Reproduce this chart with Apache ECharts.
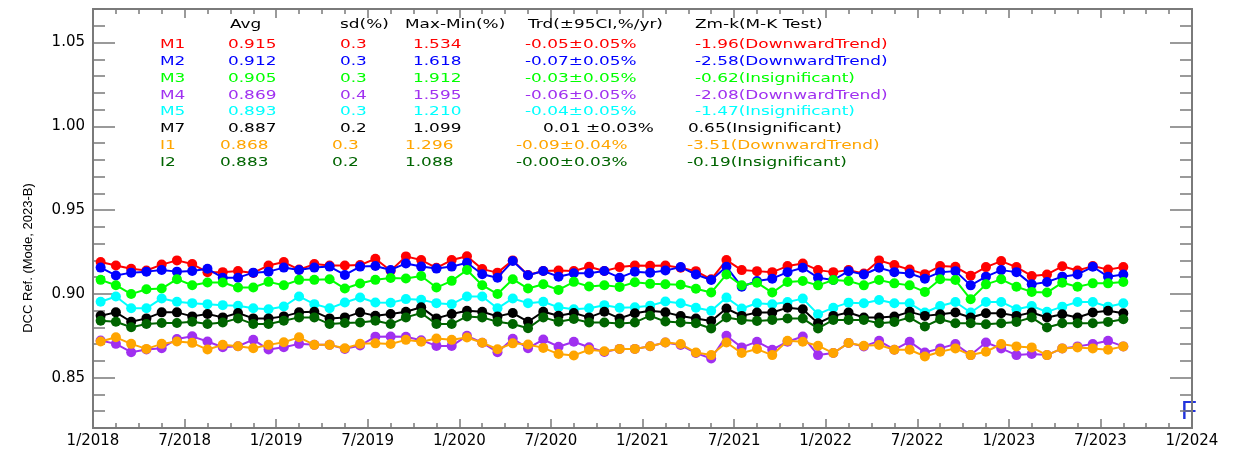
<!DOCTYPE html>
<html><head><meta charset="utf-8">
<script src="https://cdn.jsdelivr.net/npm/echarts@6/dist/echarts.min.js"></script>
<style>html,body{margin:0;padding:0;background:#fff}#c{width:1253px;height:452px}</style>
</head><body><div id="c"></div>
<script>
// ---------- DATA ----------
const months = [
 '2018-01','2018-02','2018-03','2018-04','2018-05','2018-06','2018-07','2018-08','2018-09','2018-10','2018-11','2018-12',
 '2019-01','2019-02','2019-03','2019-04','2019-05','2019-06','2019-07','2019-08','2019-09','2019-10','2019-11','2019-12',
 '2020-01','2020-02','2020-03','2020-04','2020-05','2020-06','2020-07','2020-08','2020-09','2020-10','2020-11','2020-12',
 '2021-01','2021-02','2021-03','2021-04','2021-05','2021-06','2021-07','2021-08','2021-09','2021-10','2021-11','2021-12',
 '2022-01','2022-02','2022-03','2022-04','2022-05','2022-06','2022-07','2022-08','2022-09','2022-10','2022-11','2022-12',
 '2023-01','2023-02','2023-03','2023-04','2023-05','2023-06','2023-07','2023-08'];
const M1 = [0.9190,0.9170,0.9150,0.9140,0.9175,0.9200,0.9178,0.9130,0.9130,0.9137,0.9125,0.9170,0.9190,0.9145,0.9178,0.9170,0.9170,0.9172,0.9210,0.9138,
0.9224,0.9202,0.9156,0.9202,0.9225,0.9148,0.9127,0.9200,0.9113,0.9137,0.9140,0.9137,0.9162,0.9137,0.9160,0.9170,0.9168,0.9170,0.9156,0.9136,
0.9087,0.9202,0.9142,0.9136,0.9130,0.9166,0.9182,0.9142,0.9130,0.9142,0.9122,0.9200,0.9173,0.9145,0.9118,0.9166,0.9162,0.9109,0.9160,0.9196,
0.9160,0.9107,0.9116,0.9165,0.9140,0.9166,0.9145,0.9160];
const M2 = [0.9157,0.9110,0.9127,0.9133,0.9143,0.9133,0.9137,0.9150,0.9097,0.9097,0.9127,0.9133,0.9157,0.9143,0.9157,0.9163,0.9113,0.9163,0.9167,0.9143,
0.9182,0.9163,0.9151,0.9163,0.9186,0.9117,0.9097,0.9196,0.9111,0.9137,0.9103,0.9123,0.9123,0.9137,0.9097,0.9133,0.9127,0.9140,0.9160,0.9116,
0.9083,0.9162,0.9043,0.9077,0.9091,0.9130,0.9156,0.9097,0.9083,0.9136,0.9116,0.9156,0.9130,0.9122,0.9091,0.9130,0.9136,0.9051,0.9103,0.9142,
0.9130,0.9057,0.9071,0.9103,0.9116,0.9162,0.9103,0.9116];
const M3 = [0.9084,0.9052,0.8999,0.9028,0.9032,0.9088,0.9052,0.9068,0.9068,0.9038,0.9038,0.9072,0.9052,0.9084,0.9084,0.9088,0.9032,0.9062,0.9084,0.9095,
0.9092,0.9107,0.9038,0.9078,0.9143,0.9052,0.8999,0.9088,0.9032,0.9058,0.9024,0.9072,0.9044,0.9052,0.9042,0.9070,0.9060,0.9058,0.9055,0.9031,
0.9008,0.9116,0.9051,0.9067,0.9008,0.9071,0.9077,0.9051,0.9083,0.9077,0.9051,0.9083,0.9063,0.9051,0.9012,0.9087,0.9083,0.8968,0.9057,0.9087,
0.9043,0.9012,0.9008,0.9067,0.9043,0.9063,0.9063,0.9071];
const M4 = [0.8722,0.8702,0.8652,0.8668,0.8676,0.8731,0.8747,0.8716,0.8682,0.8688,0.8727,0.8668,0.8682,0.8702,0.8696,0.8696,0.8672,0.8692,0.8745,0.8746,
0.8744,0.8724,0.8690,0.8690,0.8750,0.8709,0.8652,0.8732,0.8676,0.8728,0.8685,0.8715,0.8682,0.8654,0.8672,0.8672,0.8688,0.8710,0.8695,0.8647,
0.8615,0.8750,0.8681,0.8715,0.8667,0.8715,0.8746,0.8635,0.8647,0.8707,0.8687,0.8720,0.8667,0.8715,0.8651,0.8675,0.8701,0.8635,0.8710,0.8675,
0.8635,0.8641,0.8635,0.8675,0.8687,0.8701,0.8720,0.8687];
const M5 = [0.8953,0.8985,0.8914,0.8914,0.8973,0.8953,0.8945,0.8939,0.8933,0.8929,0.8914,0.8909,0.8925,0.8985,0.8939,0.8914,0.8949,0.8979,0.8949,0.8947,
0.8969,0.8965,0.8945,0.8939,0.8985,0.8985,0.8914,0.8973,0.8945,0.8953,0.8920,0.8909,0.8914,0.8933,0.8917,0.8920,0.8930,0.8955,0.8944,0.8918,
0.8899,0.8978,0.8913,0.8944,0.8938,0.8952,0.8972,0.8879,0.8918,0.8948,0.8944,0.8964,0.8944,0.8944,0.8889,0.8928,0.8952,0.8889,0.8952,0.8952,
0.8909,0.8928,0.8893,0.8924,0.8952,0.8952,0.8924,0.8944];
const M7 = [0.8870,0.8890,0.8834,0.8854,0.8890,0.8890,0.8866,0.8880,0.8860,0.8886,0.8854,0.8854,0.8866,0.8890,0.8894,0.8854,0.8860,0.8890,0.8870,0.8880,
0.8894,0.8920,0.8854,0.8880,0.8900,0.8894,0.8866,0.8886,0.8834,0.8894,0.8870,0.8886,0.8860,0.8894,0.8854,0.8885,0.8900,0.8890,0.8868,0.8853,
0.8839,0.8913,0.8869,0.8889,0.8889,0.8918,0.8909,0.8825,0.8869,0.8889,0.8859,0.8859,0.8865,0.8893,0.8869,0.8879,0.8889,0.8859,0.8885,0.8885,
0.8869,0.8889,0.8859,0.8879,0.8859,0.8889,0.8899,0.8885];
const I1 = [0.8716,0.8741,0.8702,0.8672,0.8702,0.8716,0.8708,0.8668,0.8696,0.8688,0.8676,0.8696,0.8712,0.8741,0.8696,0.8696,0.8676,0.8702,0.8705,0.8701,
0.8726,0.8715,0.8734,0.8726,0.8740,0.8709,0.8670,0.8705,0.8698,0.8678,0.8641,0.8633,0.8667,0.8658,0.8672,0.8672,0.8688,0.8710,0.8701,0.8651,
0.8635,0.8710,0.8647,0.8671,0.8635,0.8720,0.8715,0.8691,0.8647,0.8707,0.8691,0.8695,0.8667,0.8667,0.8627,0.8655,0.8675,0.8635,0.8655,0.8701,
0.8687,0.8681,0.8635,0.8675,0.8681,0.8675,0.8667,0.8687];
const I2 = [0.8840,0.8834,0.8801,0.8820,0.8826,0.8826,0.8834,0.8820,0.8830,0.8854,0.8820,0.8820,0.8840,0.8860,0.8860,0.8820,0.8826,0.8830,0.8840,0.8820,
0.8860,0.8886,0.8820,0.8820,0.8866,0.8860,0.8834,0.8820,0.8795,0.8860,0.8834,0.8850,0.8830,0.8830,0.8823,0.8830,0.8870,0.8835,0.8830,0.8825,
0.8794,0.8859,0.8845,0.8839,0.8845,0.8853,0.8853,0.8794,0.8845,0.8845,0.8845,0.8825,0.8833,0.8859,0.8806,0.8849,0.8825,0.8825,0.8819,0.8825,
0.8833,0.8859,0.8800,0.8825,0.8825,0.8825,0.8833,0.8849];
const seriesNames = ['M1','M2','M3','M4','M5','M7','I1','I2'];
const xTickLabels = ['1/2018','7/2018','1/2019','7/2019','1/2020','7/2020','1/2021','7/2021','1/2022','7/2022','1/2023','7/2023','1/2024'];
const yTickValues = [0.85,0.90,0.95,1.00,1.05];
const statHeaders = ['Avg','sd(%)','Max-Min(%)','Trd(\u00b195CI,%/yr)','Zm-k(M-K Test)'];
const statAvg = ['0.915','0.912','0.905','0.869','0.893','0.887','0.868','0.883'];
const statSd = ['0.3','0.3','0.3','0.4','0.3','0.2','0.3','0.2'];
const statRange = ['1.534','1.618','1.912','1.595','1.210','1.099','1.296','1.088'];
const statTrend = ['-0.05\u00b10.05%','-0.07\u00b10.05%','-0.03\u00b10.05%','-0.06\u00b10.05%','-0.04\u00b10.05%','0.01 \u00b10.03%','-0.09\u00b10.04%','-0.00\u00b10.03%'];
const statZ = ['-1.96(DownwardTrend)','-2.58(DownwardTrend)','-0.62(Insignificant)','-2.08(DownwardTrend)','-1.47(Insignificant)','0.65(Insignificant)','-3.51(DownwardTrend)','-0.19(Insignificant)'];
const yAxisTitle = 'DCC Ref. (Mode, 2023-B)';

// ---------- STYLE ----------
const colors = ['#ff0000','#0000ff','#00ff00','#a030f0','#00ffff','#000000','#ffa500','#006400'];
const seriesValues = [M1,M2,M3,M4,M5,M7,I1,I2];
const AX = '#7a7a7a';
const FONT = '"DejaVu Sans", sans-serif';

function monthPos(s){ const p = s.split('-'); return (parseInt(p[0])-2018)*12 + (parseInt(p[1])-1) + 0.5; }

const chart = echarts.init(document.getElementById('c'), null, {renderer:'canvas'});

const axisLine = {show:true, onZero:false, lineStyle:{color:AX, width:2}};
function xAx(pos, showLabel){
  return {type:'value', position:pos, min:0, max:72, interval:6,
    axisLine, axisTick:{show:true, inside:true, length:9, lineStyle:{color:AX, width:1.5}},
    minorTick:{show:true, splitNumber:4, length:5, lineStyle:{color:AX, width:1.5}},
    splitLine:{show:false}, minorSplitLine:{show:false},
    axisLabel:{show:showLabel, margin:6, color:'#000', fontFamily:FONT, fontSize:15,
      formatter: v => xTickLabels[Math.round(v/6)] || ''}};
}
function yMinor(pos){
  return {type:'value', position:pos, min:0.82, max:1.07, interval:0.01,
    axisLine, axisTick:{show:true, inside:true, length:12, lineStyle:{color:AX, width:1.5}},
    axisLabel:{show:false}, splitLine:{show:false}};
}
function yMajor(pos, showLabel){
  return {type:'value', position:pos, min:0.82, max:1.07,
    axisLine, axisTick:{show:true, inside:true, length:22, customValues:yTickValues, lineStyle:{color:AX, width:1.5}},
    axisLabel:{show:showLabel, customValues:yTickValues, margin:8, color:'#000', fontFamily:FONT, fontSize:15,
      formatter: v => v.toFixed(2)}, splitLine:{show:false}};
}

// table graphics
const rowY = [45,62,79,96,112,129,146,163];
const graphics = [];
function txt(x,y,t,c){ graphics.push({type:'text', x:x, y:y, scaleX:1.3, z:100,
  style:{text:t, fill:c, font:'13px '+FONT, textAlign:'left', textVerticalAlign:'middle', verticalAlign:'middle'}}); }
const hdrX = [230,340,405,528,695];
statHeaders.forEach((h,i)=>txt(hdrX[i],25,h,'#000'));
seriesNames.forEach((n,k)=>{
  const isI = n[0]==='I';
  const c = colors[k];
  txt(160, rowY[k], n, c);
  txt(isI?220:228, rowY[k], statAvg[k], c);
  txt(isI?332:340, rowY[k], statSd[k], c);
  txt(isI?405:413, rowY[k], statRange[k], c);
  txt(isI?516:(n==='M7'?543:525), rowY[k], statTrend[k], c);
  txt(isI?687:(n==='M7'?688:695), rowY[k], statZ[k], c);
});
graphics.push({type:'text', x:28, y:258, rotation:Math.PI/2,
  style:{text:yAxisTitle, fill:'#000', font:'13px "Liberation Sans", sans-serif', textAlign:'center', textVerticalAlign:'middle', verticalAlign:'middle'}});
graphics.push({type:'text', x:1181, y:412,
  style:{text:'F', fill:'#2233dd', font:'26px "Liberation Sans", sans-serif', textAlign:'left', textVerticalAlign:'middle', verticalAlign:'middle'}});

chart.setOption({
  animation:false,
  backgroundColor:'#fff',
  grid:{left:93, right:61, top:9, bottom:24, containLabel:false},
  xAxis:[xAx('bottom', true), xAx('top', false)],
  yAxis:[yMinor('left'), yMajor('left', true), yMinor('right'), yMajor('right', false)],
  graphic: graphics,
  series: seriesValues.map((arr,k)=>({
    name: seriesNames[k], type:'line', xAxisIndex:0, yAxisIndex:0,
    data: arr.map((v,i)=>[monthPos(months[i]), v]),
    symbol:'circle', symbolSize:10, showSymbol:true,
    lineStyle:{width:2, color:colors[k]}, itemStyle:{color:colors[k]},
    emphasis:{disabled:true}, z:2+k
  }))
});
</script></body></html>
